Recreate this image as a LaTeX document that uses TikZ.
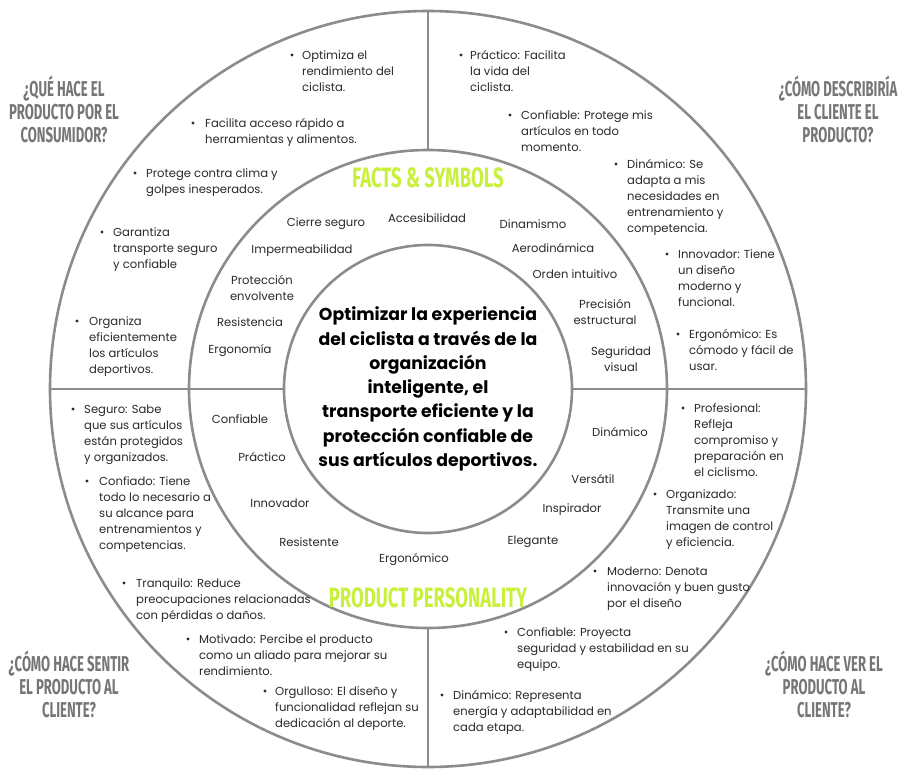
\documentclass[tikz,border=0pt]{standalone}
\usepackage{fontspec}
\setmainfont{Poppins}
\newfontfamily\headfont[FakeStretch=0.61]{Fira Sans}
\newfontfamily\greenfont[FakeStretch=0.66]{Fira Sans}
\definecolor{ring}{HTML}{8C8C8C}
\definecolor{headgray}{HTML}{767676}
\definecolor{lime}{HTML}{C8F03C}
\definecolor{txt}{HTML}{2A2A2A}
\newcommand\fstrut{\rule{0pt}{10pt}}
\newcommand\blt[5]{%
  \node[dotb] (#1d) at (#2,#4) {};
  \node[bul, anchor=north west] (#1) at (#3,#4-6) {\fstrut #5};}
\begin{document}
\begin{tikzpicture}[x=1pt,y=-1pt,
  ringline/.style={draw=ring, line width=2.6pt},
  bul/.style={font=\fontsize{11.6}{16}\selectfont, text=txt, align=left, inner sep=0pt},
  dotb/.style={circle, fill=txt, inner sep=0pt, minimum size=3.4pt},
  lbl/.style={font=\fontsize{11.6}{16}\selectfont, text=txt, align=center, inner sep=0pt},
  qhead/.style={font=\headfont\bfseries\fontsize{21.5}{23}\selectfont, text=headgray, align=center, inner sep=0pt},
  ghead/.style={font=\greenfont\bfseries\fontsize{28}{30}\selectfont, text=lime, inner sep=0pt},
  core/.style={font=\bfseries\fontsize{17.3}{24.3}\selectfont, text=black, align=center, inner sep=0pt}]
\useasboundingbox[fill=white] (0,0) rectangle (898,769);
\coordinate (O) at (428,389);
% rings
\draw[ringline] (O) circle[radius=378pt];
\draw[ringline] (O) circle[radius=239pt];
\draw[ringline] (O) circle[radius=144pt];
\coordinate (vt1) at (428,11);  \coordinate (vt2) at (428,150);
\coordinate (vb1) at (428,628); \coordinate (vb2) at (428,767);
\coordinate (hl1) at (50,389);  \coordinate (hl2) at (284,389);
\coordinate (hr1) at (572,389); \coordinate (hr2) at (806,389);
\draw[ringline] (vt1) -- (vt2);
\draw[ringline] (vb1) -- (vb2);
\draw[ringline] (hl1) -- (hl2);
\draw[ringline] (hr1) -- (hr2);
% core
\node[core] (core) at (428,389) {Optimizar la experiencia\\del ciclista a través de la\\organización\\inteligente, el\\transporte eficiente y la\\protección confiable de\\sus artículos deportivos.};
% green headings
\node[ghead] (facts) at (428,178) {FACTS \& SYMBOLS};
\node[ghead] (pers) at (428,598) {PRODUCT PERSONALITY};
% question headings
\node[qhead] (q1) at (64,109) {¿QUÉ HACE EL\\PRODUCTO POR EL\\CONSUMIDOR?};
\node[qhead] (q2) at (838,109) {¿CÓMO DESCRIBIRÍA\\EL CLIENTE EL\\PRODUCTO?};
\node[qhead] (q3) at (69,684) {¿CÓMO HACE SENTIR\\EL PRODUCTO AL\\CLIENTE?};
\node[qhead] (q4) at (824,684) {¿CÓMO HACE VER EL\\PRODUCTO AL\\CLIENTE?};
% facts & symbols
\node[lbl] (f1) at (326,224) {Cierre seguro};
\node[lbl] (f2) at (427,218) {Accesibilidad};
\node[lbl] (f3) at (533,224) {Dinamismo};
\node[lbl] (f4) at (302,251) {Impermeabilidad};
\node[lbl] (f5) at (553,248) {Aerodinámica};
\node[lbl] (f6) at (575,274) {Orden intuitivo};
\node[lbl] (f7) at (262,288) {Protección\\envolvente};
\node[lbl] (f8) at (605,312) {Precisión\\estructural};
\node[lbl] (f9) at (250,322) {Resistencia};
\node[lbl] (f10) at (240,351) {Ergonomía};
\node[lbl] (f11) at (621,359) {Seguridad\\visual};
% personality
\node[lbl] (p1) at (240,419) {Confiable};
\node[lbl] (p2) at (262,457) {Práctico};
\node[lbl] (p3) at (280,503) {Innovador};
\node[lbl] (p4) at (309,542) {Resistente};
\node[lbl] (p5) at (414,559) {Ergonómico};
\node[lbl] (p6) at (620,432) {Dinámico};
\node[lbl] (p7) at (593,479) {Versátil};
\node[lbl] (p8) at (572,510) {Inspirador};
\node[lbl] (p9) at (533,542) {Elegante};
% top-left
\blt{a1}{292}{302}{55}{Optimiza el\\rendimiento del\\ciclista.}
\blt{a2}{193}{205}{123}{Facilita acceso rápido a\\herramientas y alimentos.}
\blt{a3}{135}{146}{173}{Protege contra clima y\\golpes inesperados.}
\blt{a4}{102}{113}{232}{Garantiza\\transporte seguro\\y confiable}
\blt{a5}{77}{89}{321}{Organiza\\eficientemente\\los artículos\\deportivos.}
% top-right
\blt{b1}{461}{470}{55}{Práctico: Facilita\\la vida del\\ciclista.}
\blt{b2}{510}{521}{115}{Confiable: Protege mis\\artículos en todo\\momento.}
\blt{b3}{616}{627}{164}{Dinámico: Se\\adapta a mis\\necesidades en\\entrenamiento y\\competencia.}
\blt{b4}{667}{678}{254}{Innovador: Tiene\\un diseño\\moderno y\\funcional.}
\blt{b5}{678}{689}{334}{Ergonómico: Es\\cómodo y fácil de\\usar.}
% bottom-left
\blt{c1}{73}{84}{409}{Seguro: Sabe\\que sus artículos\\están protegidos\\y organizados.}
\blt{c2}{87}{99}{481}{Confiado: Tiene\\todo lo necesario a\\su alcance para\\entrenamientos y\\competencias.}
\blt{c3}{124}{136}{583}{Tranquilo: Reduce\\preocupaciones relacionadas\\con pérdidas o daños.}
\blt{c4}{188}{199}{639}{Motivado: Percibe el producto\\como un aliado para mejorar su\\rendimiento.}
\blt{c5}{265}{275}{691}{Orgulloso: El diseño y\\funcionalidad reflejan su\\dedicación al deporte.}
% bottom-right
\blt{d1}{683}{694}{408}{Profesional:\\Refleja\\compromiso y\\preparación en\\el ciclismo.}
\blt{d2}{655}{666}{494}{Organizado:\\Transmite una\\imagen de control\\y eficiencia.}
\blt{d3}{595}{607}{571}{Moderno: Denota\\innovación y buen gusto\\por el diseño}
\blt{d4}{506}{517}{632}{Confiable: Proyecta\\seguridad y estabilidad en su\\equipo.}
\blt{d5}{442}{453}{695}{Dinámico: Representa\\energía y adaptabilidad en\\cada etapa.}
\end{tikzpicture}
\end{document}
